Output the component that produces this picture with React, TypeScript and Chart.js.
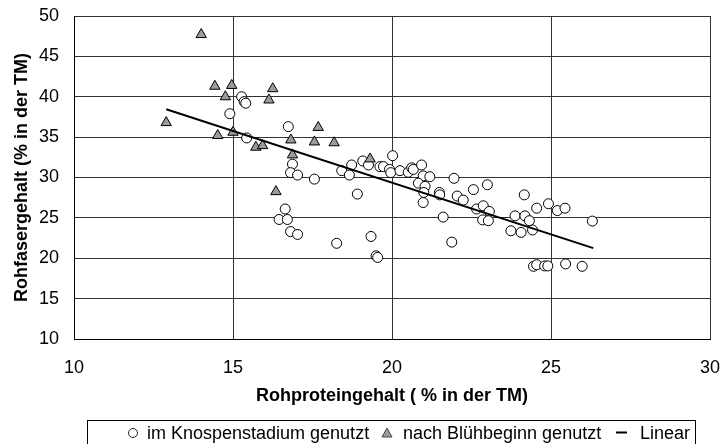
import React, { useEffect, useRef } from "react";
import { Chart, registerables } from "chart.js";

Chart.register(...registerables);

// Data
const knospenX = [
  15.27, 15.35, 15.4, 14.9, 15.43, 16.74, 16.87, 16.81, 17.03, 17.56,
  16.64, 16.45, 16.71, 16.81, 17.03, 18.26,
  18.42, 18.73, 18.66, 18.91, 19.08, 19.26, 19.34, 19.5, 19.55, 19.62,
  20.02, 19.73, 19.92, 19.96, 20.25, 20.51, 20.62, 20.67, 20.93, 20.98, 21.19, 20.83, 21.04, 21.0,
  20.98, 21.49, 21.5, 21.61, 21.95, 21.88, 22.05, 22.24, 22.56, 23.0, 22.66, 22.87, 23.06, 22.85,
  23.03, 24.16, 23.87, 24.18, 24.32, 23.74, 24.06, 24.42, 24.55, 24.45, 24.55, 24.92, 25.2, 25.44,
  26.3, 24.8, 24.9, 25.46, 25.98,
];
const knospenY = [
  40.0, 39.4, 39.2, 37.9, 34.9, 36.3, 31.65, 30.6, 30.3, 29.8,
  26.1, 24.8, 24.8, 23.3, 22.95, 21.85,
  30.85, 31.55, 30.3, 27.95, 32.05, 31.55, 22.7, 20.3, 20.1, 31.35,
  32.7, 31.35, 31.0, 30.6, 30.85, 30.65, 31.2, 31.0, 31.55, 30.2, 30.1, 29.3, 28.9, 28.15,
  26.9, 28.15, 27.85, 25.1, 29.9, 22.0, 27.7, 27.2, 28.5, 29.1, 26.1, 26.5, 25.8, 24.75,
  24.65, 27.85, 25.25, 25.25, 24.65, 23.4, 23.2, 23.5, 26.2, 19.0, 19.2, 26.75, 25.9, 26.2,
  24.6, 19.05, 19.05, 19.3, 19.0,
];
const bluehX = [
  14.0, 14.43, 14.96, 14.76, 16.25, 16.13, 12.9, 14.52, 15.0, 15.72,
  15.93, 16.82, 16.87, 17.56, 17.68, 16.35, 18.18, 19.31,
];
const bluehY = [
  47.7, 41.3, 41.4, 40.0, 41.0, 39.6, 36.8, 35.2, 35.6, 33.75,
  33.95, 34.65, 32.8, 34.4, 36.2, 28.25, 34.3, 32.3,
];
const trendX = [12.9, 26.33];
const trendY = [38.45, 21.25];

const xTitle = "Rohproteingehalt ( % in der TM)";
const yTitle = "Rohfasergehalt (% in der TM)";
const legendLabels = ["im Knospenstadium genutzt", "nach Blühbeginn genutzt", "Linear"];

const FONT = "'Liberation Sans', Arial, Helvetica, sans-serif";
const TRI_FILL = "#9c9c9c";

const toPoints = (xs: number[], ys: number[]) => xs.map((x, i) => ({ x, y: ys[i] }));

const legendPlugin = {
  id: "boxLegend",
  afterDraw(chart: any) {
    const ctx: CanvasRenderingContext2D = chart.ctx;
    ctx.save();
    const boxL = 87.5, boxR = 695.5, boxT = 420.5, boxB = 446;
    ctx.strokeStyle = "#000";
    ctx.lineWidth = 1;
    ctx.strokeRect(boxL, boxT, boxR - boxL, boxB - boxT);
    ctx.font = `18px ${FONT}`;
    ctx.fillStyle = "#000";
    ctx.textBaseline = "middle";
    ctx.textAlign = "left";
    const cy = 433;
    const circC = 133;
    const xText1 = 147;
    const triC = 387;
    const xText2 = 403;
    const lineL = 616;
    const lineR = 627;
    const xText3 = 640;
    ctx.beginPath();
    ctx.arc(circC, cy, 4.5, 0, Math.PI * 2);
    ctx.strokeStyle = "#222";
    ctx.lineWidth = 1;
    ctx.stroke();
    ctx.fillText(legendLabels[0], xText1, cy + 1);
    ctx.beginPath();
    ctx.moveTo(triC, cy - 5);
    ctx.lineTo(triC + 5, cy + 4);
    ctx.lineTo(triC - 5, cy + 4);
    ctx.closePath();
    ctx.fillStyle = TRI_FILL;
    ctx.fill();
    ctx.strokeStyle = "#444";
    ctx.stroke();
    ctx.fillStyle = "#000";
    ctx.fillText(legendLabels[1], xText2, cy + 1);
    ctx.beginPath();
    ctx.moveTo(lineL, cy - 0.5);
    ctx.lineTo(lineR, cy - 0.5);
    ctx.lineWidth = 2;
    ctx.strokeStyle = "#000";
    ctx.stroke();
    ctx.fillText(legendLabels[2], xText3, cy + 1);
    ctx.restore();
  },
};

export default function App() {
  const ref = useRef<HTMLCanvasElement | null>(null);
  useEffect(() => {
    if (!ref.current) return;
    const chart = new Chart(ref.current, {
      type: "scatter",
      data: {
        datasets: [
          {
            type: "line",
            label: legendLabels[2],
            data: toPoints(trendX, trendY),
            borderColor: "#000",
            borderWidth: 2,
            pointRadius: 0,
            showLine: true,
            fill: false,
          } as any,
          {
            label: legendLabels[1],
            data: toPoints(bluehX, bluehY),
            pointStyle: "triangle",
            pointRadius: 6,
            backgroundColor: TRI_FILL,
            borderColor: "#000",
            borderWidth: 1,
          },
          {
            label: legendLabels[0],
            data: toPoints(knospenX, knospenY),
            pointStyle: "circle",
            pointRadius: 5,
            backgroundColor: "#fff",
            borderColor: "#000",
            borderWidth: 1,
          },
        ],
      },
      options: {
        responsive: false,
        animation: false,
        devicePixelRatio: 1,
        layout: { padding: { left: 0, top: 16, right: 12, bottom: 25 } },
        plugins: {
          legend: { display: false },
          tooltip: { enabled: false },
        },
        scales: {
          x: {
            type: "linear",
            min: 10,
            max: 30,
            afterFit: (s: any) => {
              s.height = 80;
              s.paddingLeft = 0;
              s.paddingRight = 0;
            },
            ticks: {
              stepSize: 5,
              padding: 18,
              color: "#000",
              font: { family: FONT, size: 18 },
              maxRotation: 0,
            },
            grid: { color: "#333", lineWidth: 1, drawTicks: false },
            border: { display: true, color: "#000", width: 1 },
            title: {
              display: true,
              text: xTitle,
              color: "#000",
              font: { family: FONT, size: 18, weight: "bold" },
              padding: { top: 0, bottom: 12 },
            },
          },
          y: {
            type: "linear",
            min: 10,
            max: 50,
            afterFit: (s: any) => {
              s.width = 74;
              s.paddingTop = 0;
              s.paddingBottom = 0;
            },
            ticks: {
              stepSize: 5,
              padding: 15,
              color: "#000",
              font: { family: FONT, size: 18 },
            },
            grid: { color: "#333", lineWidth: 1, drawTicks: false },
            border: { display: true, color: "#000", width: 1 },
            title: {
              display: true,
              text: yTitle,
              color: "#000",
              font: { family: FONT, size: 18, weight: "bold" },
              padding: { top: 11, bottom: 0 },
            },
          },
        },
      },
      plugins: [legendPlugin],
    });
    return () => chart.destroy();
  }, []);
  return (
    <div style={{ position: "absolute", left: 0, top: 0, width: 722, height: 444, background: "#fff" }}>
      <canvas ref={ref} width={722} height={444} style={{ display: "block" }} />
    </div>
  );
}
